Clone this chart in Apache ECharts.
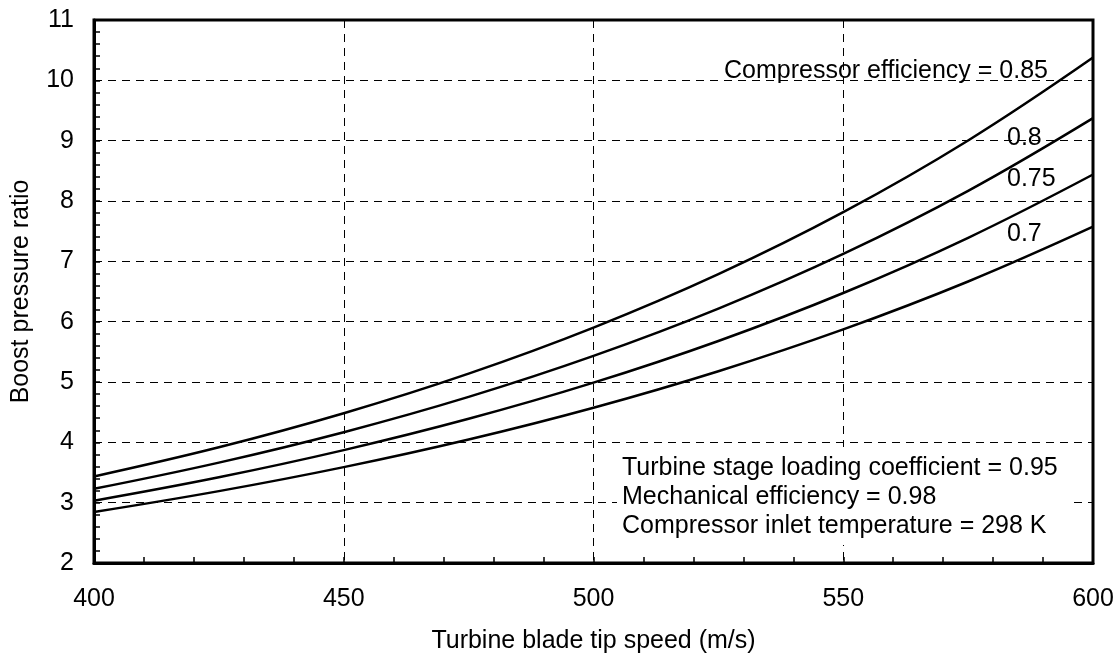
<!DOCTYPE html>
<html>
<head>
<meta charset="utf-8">
<script src="https://cdn.jsdelivr.net/npm/echarts@6/dist/echarts.min.js"></script>
<style>html,body{margin:0;padding:0;background:#fff}#c{width:1120px;height:659px}</style>
</head>
<body>
<div id="c"></div>
<script>
const tipSpeed = [400, 425, 450, 475, 500, 525, 550, 575, 600];
const eff085 = [3.435, 3.918, 4.482, 5.138, 5.901, 6.787, 7.814, 9.003, 10.377];
const eff080 = [3.230, 3.664, 4.168, 4.753, 5.432, 6.216, 7.122, 8.168, 9.373];
const eff075 = [3.033, 3.421, 3.871, 4.390, 4.989, 5.680, 6.475, 7.390, 8.439];
const eff070 = [2.845, 3.191, 3.589, 4.047, 4.574, 5.179, 5.872, 6.666, 7.574];
const seriesNames = ['0.85', '0.8', '0.75', '0.7'];
const noteLines = ['Turbine stage loading coefficient = 0.95', 'Mechanical efficiency = 0.98', 'Compressor inlet temperature = 298 K'];

const font = 'Liberation Sans, Arial, sans-serif';
const FS = 25;
const pair = arr => tipSpeed.map((x, i) => [x, arr[i]]);
const chart = echarts.init(document.getElementById('c'));
const mkSeries = (name, arr) => ({
  name, type: 'line', data: pair(arr), smooth: 0.4, symbol: 'none',
  lineStyle: {color: '#000', width: 2.5}, z: 5
});
const txt = (x, y, s, align) => ({type: 'text', x, y, z: 10,
  style: {text: s, font: FS + 'px ' + font, fill: '#000', align: align || 'left', verticalAlign: 'middle'}});
chart.setOption({
  animation: false,
  backgroundColor: '#fff',
  grid: {left: 94, right: 27, top: 20, bottom: 96, show: true, borderColor: '#000', borderWidth: 3, backgroundColor: 'transparent'},
  xAxis: {
    type: 'value', min: 400, max: 600, interval: 50,
    name: 'Turbine blade tip speed (m/s)', nameLocation: 'middle', nameGap: 66,
    nameTextStyle: {fontFamily: font, fontSize: FS, color: '#000'},
    axisLine: {show: true, lineStyle: {color: '#000', width: 3}},
    axisTick: {show: true, inside: true, length: 6, lineStyle: {color: '#000', width: 1.5}},
    minorTick: {show: true, splitNumber: 5, length: 6, lineStyle: {color: '#000', width: 1.5}},
    axisLabel: {fontFamily: font, fontSize: FS, color: '#000', margin: 24},
    splitLine: {show: true, lineStyle: {color: '#000', type: [8, 6], width: 1}}
  },
  yAxis: {
    type: 'value', min: 2, max: 11, interval: 1,
    name: 'Boost pressure ratio', nameLocation: 'middle', nameGap: 60,
    nameTextStyle: {fontFamily: font, fontSize: FS, color: '#000'},
    axisLine: {show: true, lineStyle: {color: '#000', width: 3}},
    axisTick: {show: true, inside: true, length: 6, lineStyle: {color: '#000', width: 1.5}},
    minorTick: {show: true, splitNumber: 5, length: 6, lineStyle: {color: '#000', width: 1.5}},
    axisLabel: {fontFamily: font, fontSize: FS, color: '#000', margin: 20},
    splitLine: {show: true, lineStyle: {color: '#000', type: [8, 6], width: 1}}
  },
  series: [
    mkSeries(seriesNames[0], eff085),
    mkSeries(seriesNames[1], eff080),
    mkSeries(seriesNames[2], eff075),
    mkSeries(seriesNames[3], eff070)
  ],
  graphic: [
    {type: 'rect', z: 3, shape: {x: 617, y: 447, width: 455, height: 98}, style: {fill: '#fff'}},
    txt(1048, 71, 'Compressor efficiency = ' + seriesNames[0], 'right'),
    txt(1007, 138, seriesNames[1]),
    txt(1007, 179, seriesNames[2]),
    txt(1007, 234, seriesNames[3]),
    txt(622, 468, noteLines[0]),
    txt(622, 497, noteLines[1]),
    txt(622, 526, noteLines[2])
  ]
});
</script>
</body>
</html>
